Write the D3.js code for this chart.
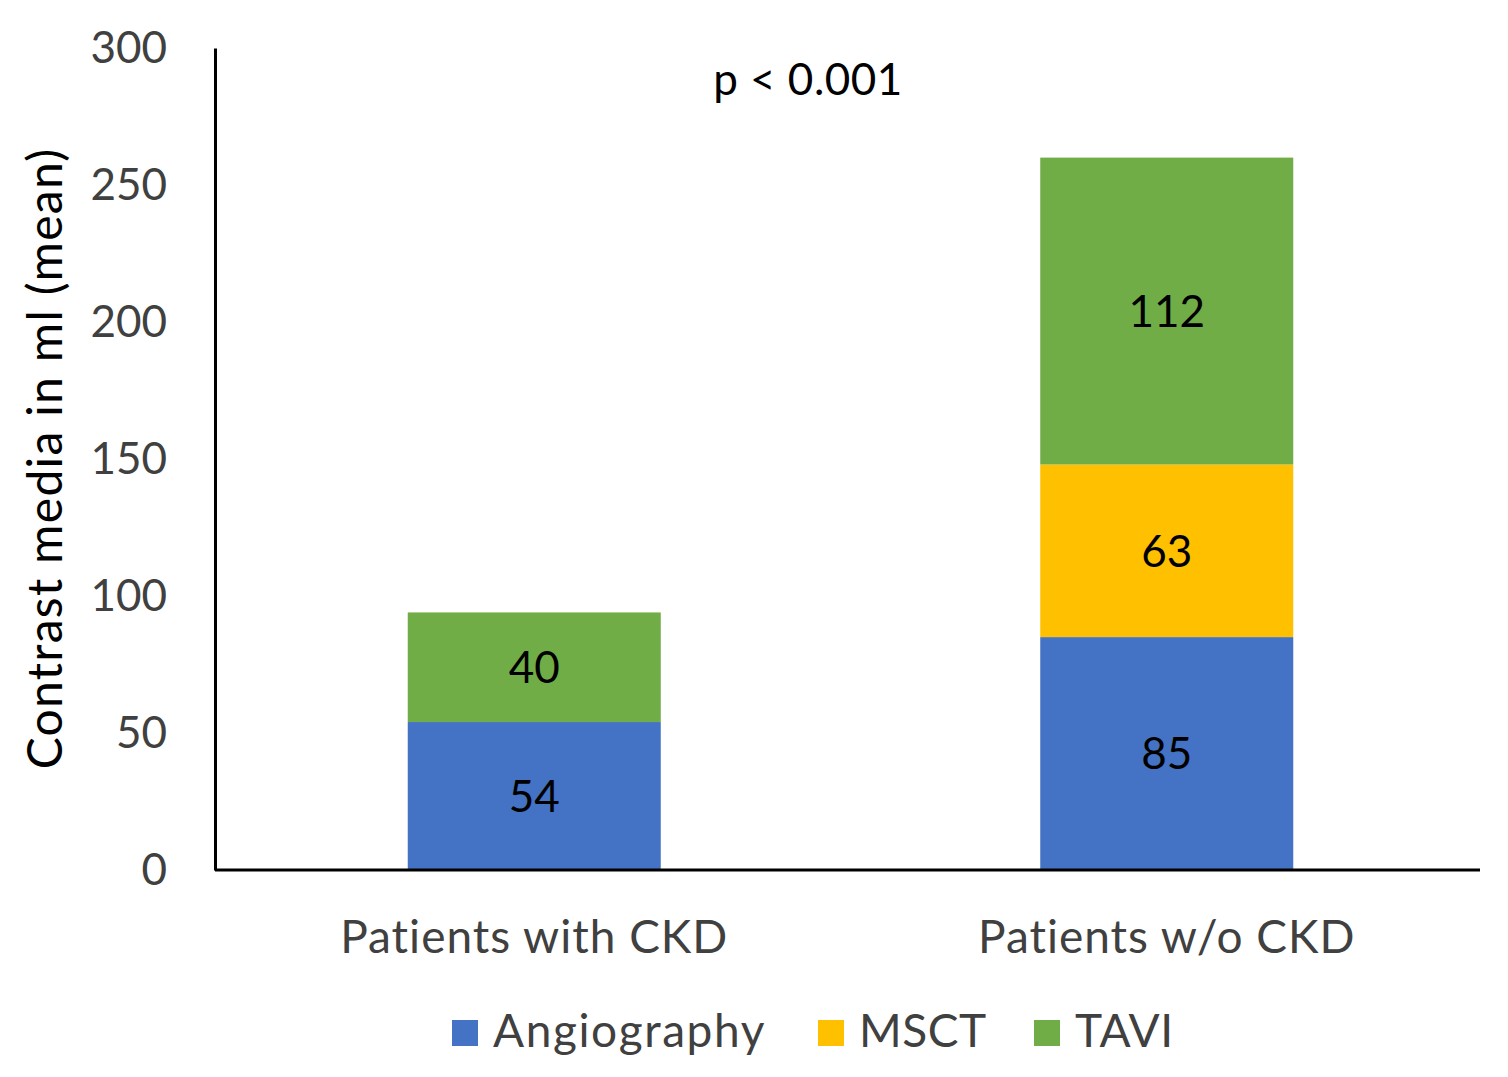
<!DOCTYPE html>
<html><head><meta charset="utf-8">
<script src="https://cdn.jsdelivr.net/npm/d3@7"></script>
<style>body{margin:0;background:#fff}</style>
</head><body>
<svg id="c" width="1508" height="1077"></svg>
<script>
const categories = ["Patients with CKD", "Patients w/o CKD"];
const seriesNames = ["Angiography", "MSCT", "TAVI"];
const angiography = [54, 85];
const msct = [0, 63];
const tavi = [40, 112];
const yTicks = [0, 50, 100, 150, 200, 250, 300];
const colors = ["#4472C4", "#FFC000", "#70AD47"];
const font = "Lato, 'Open Sans', sans-serif";

const svg = d3.select("#c");
const L = 215, R = 1480, T = 48, B = 870;
const x = d3.scaleBand().domain(categories).range([L + 3, R + 3]).paddingInner(0.6).paddingOuter(0.3);
const y = d3.scaleLinear().domain([0, 300]).range([B, T]);

const rows = categories.map((c, i) => ({cat: c, Angiography: angiography[i], MSCT: msct[i], TAVI: tavi[i]}));
const stacked = d3.stack().keys(seriesNames)(rows);

const g = svg.append("g");
stacked.forEach((s, si) => {
  s.forEach((d, i) => {
    const v = d[1] - d[0];
    if (v <= 0) return;
    g.append("rect")
      .attr("x", x(d.data.cat)).attr("width", x.bandwidth())
      .attr("y", y(d[1])).attr("height", y(d[0]) - y(d[1]))
      .attr("fill", colors[si]);
    g.append("text")
      .attr("x", x(d.data.cat) + x.bandwidth() / 2)
      .attr("y", (y(d[0]) + y(d[1])) / 2)
      .attr("dy", "0.36em")
      .attr("text-anchor", "middle")
      .attr("font-family", font).attr("font-size", 44)
      .attr("fill", "#000").text(v);
  });
});

// y axis
const ya = svg.append("g").attr("transform", `translate(${L},0)`)
  .call(d3.axisLeft(y).tickValues(yTicks).tickSize(0).tickPadding(48));
ya.select(".domain").attr("stroke", "#000").attr("stroke-width", 3);
ya.selectAll("text").attr("font-family", font).attr("font-size", 44).attr("fill", "#404040");

// x axis
const xa = svg.append("g").attr("transform", `translate(0,${B})`)
  .call(d3.axisBottom(x).tickSize(0).tickPadding(50));
xa.select(".domain").attr("stroke", "#000").attr("stroke-width", 3).attr("d", `M${L},0H${R}`);
xa.selectAll("text").attr("font-family", font).attr("font-size", 46).attr("fill", "#404040").attr("letter-spacing", 1);

// y title
svg.append("text")
  .attr("transform", `translate(62,${(152 + 765) / 2}) rotate(-90)`)
  .attr("text-anchor", "middle")
  .attr("font-family", font).attr("font-size", 48).attr("letter-spacing", 1.3).attr("fill", "#000")
  .text("Contrast media in ml (mean)");

// p-value
svg.append("text").attr("x", 808).attr("y", 95).attr("text-anchor", "middle")
  .attr("font-family", font).attr("font-size", 44).attr("letter-spacing", 0.5).attr("fill", "#000").text("p < 0.001");

// legend
const legX = [452, 818, 1034];
seriesNames.forEach((n, i) => {
  svg.append("rect").attr("x", legX[i]).attr("y", 1020).attr("width", 26).attr("height", 26).attr("fill", colors[i]);
  svg.append("text").attr("x", legX[i] + 41).attr("y", 1047)
    .attr("font-family", font).attr("font-size", 46).attr("letter-spacing", i === 0 ? 1.6 : 0.5)
    .attr("fill", "#404040").text(n);
});
</script>
</body></html>
